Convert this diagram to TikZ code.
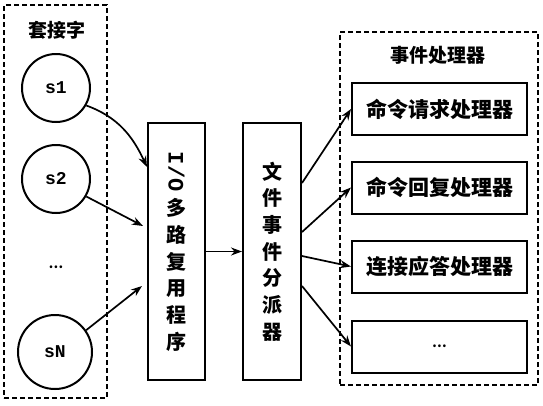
\documentclass[tikz,border=0pt]{standalone}
\usepackage{fontspec}
\usepackage{graphicx}
\newfontfamily\cjk{Noto Sans CJK SC}
\newfontfamily\mono{Liberation Mono}
\usetikzlibrary{arrows.meta,positioning,calc}

\begin{document}
\begin{tikzpicture}[x=1pt,y=-1pt,line width=2pt,
sock/.style ={circle ,draw ,minimum size=68pt ,inner sep=0pt ,
font=\mono\bfseries\fontsize{18}{18}\selectfont},
group/.style ={draw ,dash pattern=on 5pt off 3pt ,line width=2pt ,inner sep=0pt},
proc/.style ={draw ,minimum height=257pt ,inner sep=0pt ,align=center ,
font=\cjk\bfseries\fontsize{20}{26.7}\selectfont},
handler/.style ={draw ,minimum width=175pt ,minimum height=52pt ,inner sep=0pt ,
font=\cjk\bfseries\fontsize{21}{21}\selectfont},
grouptitle/.style ={font=\cjk\bfseries\fontsize{19}{19}\selectfont},
link/.style ={line width=1.7pt ,-{Stealth[length=11pt,width=8pt]}}]
\useasboundingbox (0,0) rectangle (543,405);

\node[group ,minimum width=103pt ,minimum height=393pt] (socks) at (55.5,201.5) {};
\node[grouptitle] (socktitle) at (57,30) {套接字};
\node[sock] (s1) at (56,88) {s1};
\node[sock] (s2) at (56,179) {s2};
\node[font=\cjk\bfseries\fontsize{13}{13}\selectfont] (sdots) at (56,267) {…};
\node[sock ,minimum size=74pt] (sN) at (55,352) {sN};

\node[proc ,minimum width=57pt] (io) at (176.5,251.5)
{\rotatebox{-90}{\mono\bfseries\fontsize{22}{22}\selectfont I/O}\\[6pt]多\\路\\复\\用\\程\\序};
\node[proc ,minimum width=58pt] (disp) at (272,251.5) {文\\件\\事\\件\\分\\派\\器};

\node[group ,minimum width=198pt ,minimum height=353pt] (handlers) at (439,208.5) {};
\node[grouptitle] (handtitle) at (438,55) {事件处理器};
\node[handler] (h1) at (439.5,109) {命令请求处理器};
\node[handler] (h2) at (439.5,187.5) {命令回复处理器};
\node[handler] (h3) at (439.5,266.5) {连接应答处理器};
\node[handler] (h4) at (439.5,346.5) {\fontsize{13}{13}\selectfont …};

\draw[link] (s1.-30) to[out=-20,in=115] ($(io.north west)+(0,45)$);
\draw[link] (s2.-30) -- ($(io.north west)+(-4,104)$);
\draw[link] (sN.35) -- ($(io.north west)+(-5,164)$);

\draw[link] (io) -- (disp);

\draw[link] ($(disp.north east)+(0,61)$) -- (h1.west);
\draw[link] ($(disp.north east)+(0,110)$) -- (h2.west);
\draw[link] ($(disp.north east)+(0,134)$) -- (h3.west);
\draw[link] ($(disp.north east)+(0,164)$) -- (h4.west);
\end{tikzpicture}
\end{document}
